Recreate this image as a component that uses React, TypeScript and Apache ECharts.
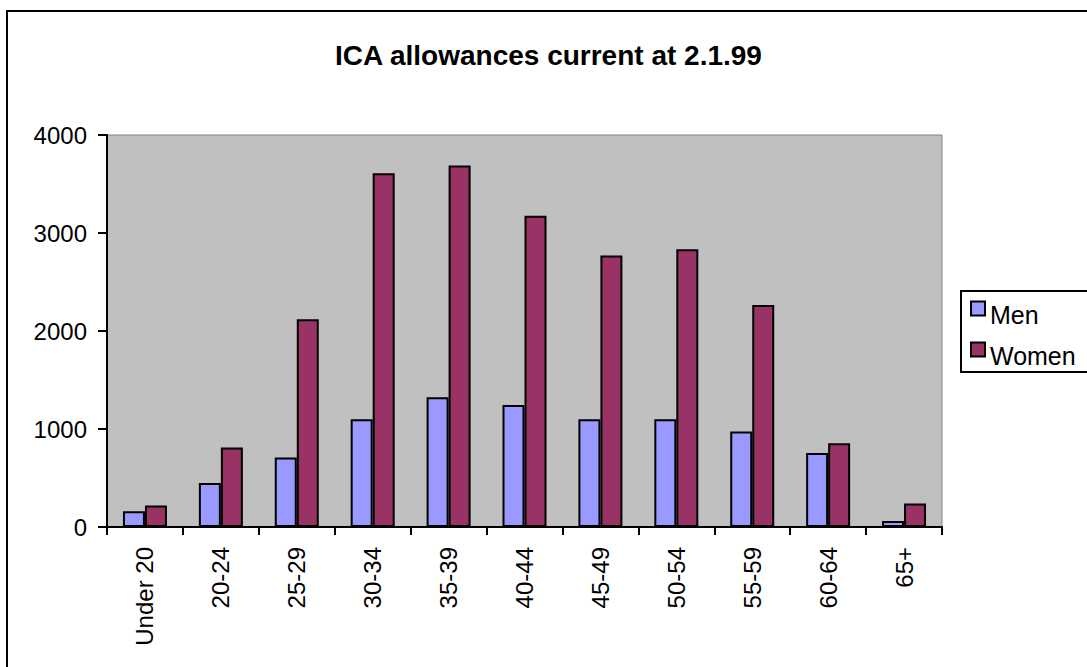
import React, { useEffect, useRef } from "react";
import * as echarts from "echarts";

const categories = ["Under 20", "20-24", "25-29", "30-34", "35-39", "40-44", "45-49", "50-54", "55-59", "60-64", "65+"];
const menValues = [160, 450, 710, 1100, 1325, 1245, 1100, 1100, 975, 755, 60];
const womenValues = [220, 810, 2120, 3610, 3690, 3175, 2770, 2835, 2265, 855, 240];
const seriesNames = ["Men", "Women"];
const titleText = "ICA allowances current at 2.1.99";

export default function App() {
  const ref = useRef<HTMLDivElement>(null);
  useEffect(() => {
    if (!ref.current) return;
    const chart = echarts.init(ref.current, null, { renderer: "svg" });
    const font = "'Liberation Sans', Arial, sans-serif";
    chart.setOption({
      animation: false,
      backgroundColor: "#ffffff",
      textStyle: { fontFamily: font },
      title: {
        text: titleText,
        left: 335,
        top: 41,
        padding: 0,
        textStyle: { fontFamily: font, fontSize: 28, fontWeight: "bold", color: "#000" },
      },
      legend: {
        orient: "vertical",
        left: 961,
        top: 285,
        padding: [5, 10, 6, 9],
        borderWidth: 0,
        itemWidth: 14,
        itemHeight: 14,
        itemGap: 4,
        icon: "rect",
        itemStyle: { borderColor: "#000", borderWidth: 2 },
        formatter: "{a|{name}}",
        textStyle: {
          fontFamily: font,
          fontSize: 25,
          color: "#000",
          rich: {
            a: { fontFamily: font, fontSize: 25, color: "#000", lineHeight: 16, padding: [12, 0, 0, 0] },
          },
        },
        data: seriesNames,
      },
      grid: {
        left: 107,
        top: 135,
        right: 145,
        bottom: 140,
        show: true,
        backgroundColor: "#C0C0C0",
        borderColor: "#808080",
        borderWidth: 1,
      },
      xAxis: {
        type: "category",
        data: categories,
        boundaryGap: true,
        axisLine: { lineStyle: { color: "#000", width: 2 } },
        axisTick: { show: true, alignWithLabel: false, length: 8, lineStyle: { color: "#000", width: 2 } },
        axisLabel: { rotate: 90, margin: 20, fontSize: 24, color: "#000", fontFamily: font, interval: 0 },
        splitLine: { show: false },
      },
      yAxis: {
        type: "value",
        min: 0,
        max: 4000,
        interval: 1000,
        axisLine: { show: true, lineStyle: { color: "#000", width: 2 } },
        axisTick: { show: true, length: 9, lineStyle: { color: "#000", width: 2 } },
        axisLabel: {
          margin: 20,
          fontSize: 24,
          color: "#000",
          fontFamily: font,
          padding: [16, 0, 0, 0],
          formatter: (v: number) => String(v),
        },
        splitLine: { show: false },
      },
      series: [
        {
          name: seriesNames[0],
          type: "bar",
          data: menValues,
          barWidth: 22,
          barGap: "0%",
          itemStyle: { color: "#9999FF", borderColor: "#000", borderWidth: 2 },
        },
        {
          name: seriesNames[1],
          type: "bar",
          data: womenValues,
          barWidth: 22,
          barGap: "0%",
          itemStyle: { color: "#993366", borderColor: "#000", borderWidth: 2 },
        },
      ],
      graphic: [
        {
          type: "rect",
          shape: { x: 7, y: 11, width: 1200, height: 800 },
          style: { fill: "none", stroke: "#000", lineWidth: 2 },
          silent: true,
        },
        {
          type: "rect",
          shape: { x: 961, y: 291, width: 200, height: 81 },
          style: { fill: "none", stroke: "#000", lineWidth: 2 },
          silent: true,
        },
      ],
    });
    return () => chart.dispose();
  }, []);
  return (
    <div
      ref={ref}
      style={{ position: "fixed", left: 0, top: 0, width: 1087, height: 667 }}
    />
  );
}
